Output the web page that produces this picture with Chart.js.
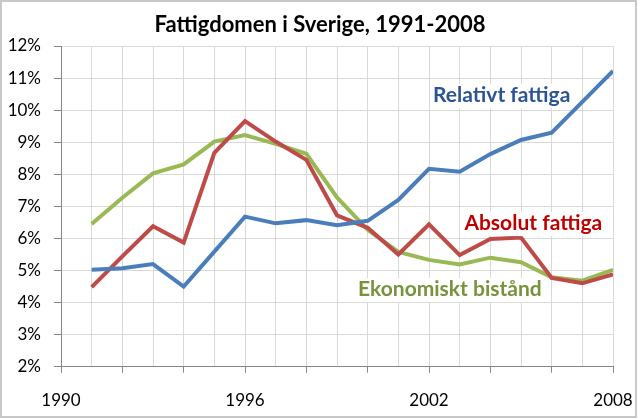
<!DOCTYPE html>
<html>
<head>
<meta charset="utf-8">
<script src="https://cdn.jsdelivr.net/npm/chart.js@4.4.1/dist/chart.umd.min.js"></script>
<style>
  html, body { margin: 0; padding: 0; background: #fff; }
  #wrap { width: 640px; height: 419px; position: relative; }
</style>
</head>
<body>
<div id="wrap"><canvas id="myChart" width="640" height="419"></canvas></div>
<script>
// data (percent)
var years = [1991, 1992, 1993, 1994, 1995, 1996, 1997, 1998, 1999, 2000, 2001, 2002, 2003, 2004, 2005, 2006, 2007, 2008];
var relativt = [5.02, 5.07, 5.2, 4.5, 5.59, 6.68, 6.47, 6.57, 6.41, 6.55, 7.2, 8.17, 8.08, 8.63, 9.07, 9.3, 10.26, 11.22];
var absolut = [4.48, 5.44, 6.38, 5.87, 8.67, 9.66, 9.02, 8.45, 6.72, 6.33, 5.5, 6.44, 5.48, 5.98, 6.03, 4.77, 4.6, 4.88];
var ekonomiskt = [6.45, 7.27, 8.03, 8.31, 9.02, 9.22, 8.95, 8.64, 7.28, 6.27, 5.58, 5.33, 5.19, 5.4, 5.26, 4.79, 4.68, 5.02];
var seriesNames = ["Relativt fattiga", "Absolut fattiga", "Ekonomiskt bistånd"];
var xTickLabels = [1990, 1996, 2002, 2008];
var yTicks = [2, 3, 4, 5, 6, 7, 8, 9, 10, 11, 12];
var title = "Fattigdomen i Sverige, 1991-2008";

function pts(vals) {
  var out = [];
  for (var i = 0; i < years.length; i++) {
    out.push({x: years[i], y: vals[i]});
  }
  return out;
}

// name labels placed in data units: [x year, y percent]
var labelPos = [[2004.37, 10.25], [2005.4, 6.26], [2002.68, 4.2]];
var labelColors = ["#2B5592", "#C00000", "#77933C"];

var frame = {
  id: 'frame',
  beforeDraw: function(chart) {
    var c = chart.ctx;
    c.save();
    c.fillStyle = '#fff';
    c.fillRect(0, 0, chart.width, chart.height);
    c.restore();
  },
  afterDraw: function(chart) {
    var c = chart.ctx;
    c.save();
    c.strokeStyle = '#c8c8c8';
    c.lineWidth = 2;
    c.strokeRect(1, 1, 635, 416);
    // title, centred on the whole picture
    c.fillStyle = '#000';
    c.font = 'bold 22px Lato';
    c.textAlign = 'center';
    c.textBaseline = 'alphabetic';
    c.fillText(title, chart.width / 2, 32);
    c.restore();
  }
};

var seriesLabels = {
  id: 'seriesLabels',
  afterDatasetsDraw: function(chart) {
    var c = chart.ctx;
    var xs = chart.scales.x, ys = chart.scales.y;
    c.save();
    c.font = 'bold 21px Lato';
    c.textAlign = 'center';
    c.textBaseline = 'alphabetic';
    for (var i = 0; i < seriesNames.length; i++) {
      var px = xs.getPixelForValue(labelPos[i][0]);
      var py = ys.getPixelForValue(labelPos[i][1]);
      var w = c.measureText(seriesNames[i]).width;
      c.fillStyle = '#fff';
      c.fillRect(px - w / 2 - 2, py - 18, w + 4, 24);
      c.fillStyle = labelColors[i];
      c.fillText(seriesNames[i], px, py);
    }
    c.restore();
  }
};

var ctx = document.getElementById('myChart').getContext('2d');
var chart = new Chart(ctx, {
  type: 'line',
  data: {
    datasets: [
      {label: seriesNames[0], data: pts(relativt), borderColor: '#4A7EBB', borderWidth: 4, pointRadius: 0, tension: 0},
      {label: seriesNames[1], data: pts(absolut), borderColor: '#BE4B48', borderWidth: 4, pointRadius: 0, tension: 0},
      {label: seriesNames[2], data: pts(ekonomiskt), borderColor: '#98B954', borderWidth: 4, pointRadius: 0, tension: 0}
    ]
  },
  options: {
    responsive: false,
    animation: false,
    events: [],
    layout: { padding: { left: 0, right: 27, top: 46, bottom: 0 } },
    plugins: {
      legend: { display: false },
      tooltip: { enabled: false },
      title: { display: false }
    },
    scales: {
      x: {
        type: 'linear',
        min: 1990,
        max: 2008,
        afterBuildTicks: function(s) {
          var t = [];
          for (var v = 1990; v <= 2008; v++) t.push({value: v});
          s.ticks = t;
        },
        afterFit: function(s) {
          s.height = 52.3;
          s.paddingLeft = 0;
          s.paddingRight = 0;
        },
        grid: {
          color: '#d9d9d9',
          lineWidth: 1,
          tickLength: 6,
          tickColor: function(c) {
            return (c.tick && c.tick.value % 2 === 0) ? '#868686' : 'rgba(0,0,0,0)';
          }
        },
        border: { color: '#868686', width: 1 },
        ticks: {
          autoSkip: false,
          maxRotation: 0,
          padding: 18,
          color: '#000',
          font: { family: 'Lato', size: 17 },
          callback: function(v) {
            return xTickLabels.indexOf(v) >= 0 ? String(v) : '';
          }
        }
      },
      y: {
        min: yTicks[0],
        max: yTicks[yTicks.length - 1],
        afterFit: function(s) {
          s.width = 61;
          s.paddingTop = 0;
          s.paddingBottom = 0;
        },
        grid: { color: '#d9d9d9', lineWidth: 1, tickLength: 7, tickColor: '#868686' },
        border: { color: '#868686', width: 1 },
        ticks: {
          stepSize: 1,
          padding: 13,
          color: '#000',
          font: { family: 'Lato', size: 17 },
          callback: function(v) { return v + '%'; }
        }
      }
    }
  },
  plugins: [frame, seriesLabels]
});
</script>
</body>
</html>
